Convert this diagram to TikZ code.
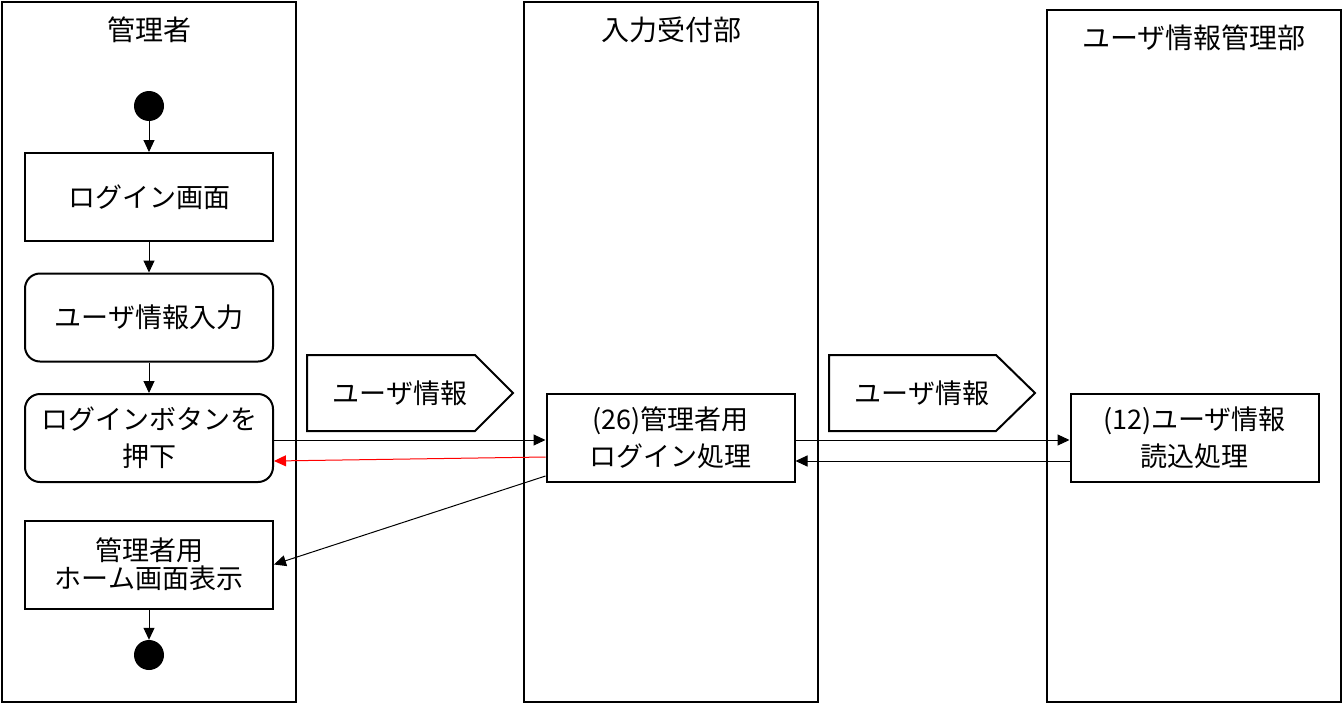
\documentclass[tikz,border=0pt]{standalone}
\usepackage{fontspec}
\setmainfont{Noto Sans CJK JP}
\usetikzlibrary{arrows.meta}

\begin{document}
\begin{tikzpicture}[x=1pt,y=-1pt,
		lane/.style={line width=2pt},
		act/.style={draw,line width=2pt,minimum width=248pt,minimum height=88pt,inner sep=0pt,align=center,font=\fontsize{27}{37}\selectfont},
		ract/.style={act,rounded corners=15pt},
		dot/.style={fill,circle,inner sep=0pt,minimum size=30pt},
		msg/.style={-{Triangle[length=12pt,width=11pt]},line width=1pt},
		title/.style={font=\fontsize{28}{30}\selectfont}]
			\useasboundingbox (0,0) rectangle (1343,704);
			%\draw [help lines] (0,0) grid[step=100] (1343,704);

			% swim lanes
			\draw[lane] (2,2) rectangle (296,702);
			\draw[lane] (524,2) rectangle (818,702);
			\draw[lane] (1047,10) rectangle (1341,702);
			\node[title] (t1) at (149,30) {管理者};
			\node[title] (t2) at (671,30) {入力受付部};
			\node[title] (t3) at (1194,38) {ユーザ情報管理部};

			% data objects
			\draw[lane] (307,355) -- (475,355) -- (513,393) -- (475,431) -- (307,431) -- cycle;
			\node[title,font=\fontsize{27}{30}\selectfont] (d1) at (400,393) {ユーザ情報};
			\draw[lane] (829,355) -- (996,355) -- (1035,393) -- (996,431) -- (829,431) -- cycle;
			\node[title,font=\fontsize{27}{30}\selectfont] (d2) at (922,393) {ユーザ情報};

			% admin lane
			\node[dot] (start) at (149,106) {};
			\node[act] (login) at (149,197) {ログイン画面};
			\node[ract] (input) at (149,317.5) {ユーザ情報入力};
			\node[ract] (press) at (149,438) {ログインボタンを\\押下};
			\node[act,font=\fontsize{27}{28}\selectfont] (home) at (149,564.5) {管理者用\\ホーム画面表示};
			\node[dot] (stop) at (149,655) {};

			\draw[msg] (start) -- (login);
			\draw[msg] (login) -- (input);
			\draw[msg] (input) -- (press);
			\draw[msg] (home) -- (stop);

			% processing
			\node[act] (p26) at (670.5,438) {(26)管理者用\\ログイン処理};
			\node[act] (p12) at (1194.5,438) {(12)ユーザ情報\\読込処理};

			\draw[msg] ([yshift=-2pt]press.east) -- ([yshift=-2pt]p26.west);
			\draw[msg,red] ([yshift=-19pt]p26.west) -- ([yshift=-23pt]press.east);
			\draw[msg] ([yshift=-38pt]p26.west) -- (home.east);
			\draw[msg] ([yshift=-2pt]p26.east) -- ([yshift=-2pt]p12.west);
			\draw[msg] ([yshift=-23pt]p12.west) -- ([yshift=-23pt]p26.east);
		\end{tikzpicture}
\end{document}
